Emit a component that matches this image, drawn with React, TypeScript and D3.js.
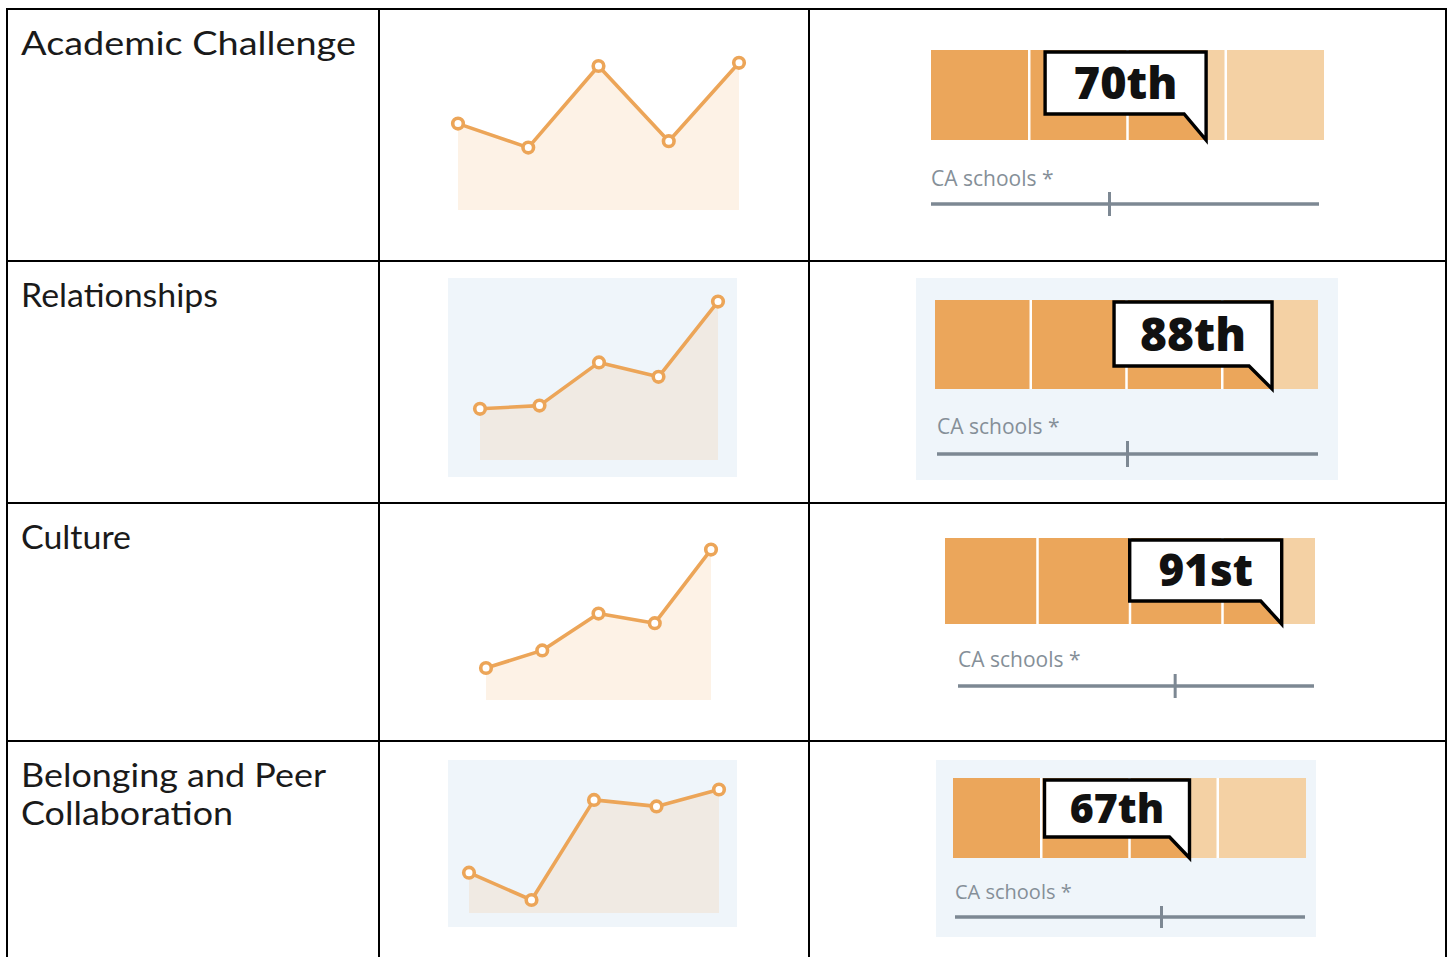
import React from "react";
import * as d3 from "d3";

// ---------- DATA ----------
const categories = ["Academic Challenge", "Relationships", "Culture", "Belonging and Peer Collaboration"];
const labelLines = [["Academic Challenge"], ["Relationships"], ["Culture"], ["Belonging and Peer", "Collaboration"]];
const trendAcademic = [54, 39, 90, 43, 92];
const trendRelationships = [32, 34, 61, 52, 99];
const trendCulture = [20, 31, 54, 48, 94];
const trendBelonging = [31, 10, 87, 82, 95];
const trends = [trendAcademic, trendRelationships, trendCulture, trendBelonging];
const percentiles = [70, 88, 91, 67];
const percentileLabels = ["70th", "88th", "91st", "67th"];
const caMarker = [46, 50, 61, 59];
const quartiles = [25, 50, 75];
const caLabel = "CA schools *";

// ---------- LAYOUT ----------
const colX = [7, 379, 809, 1446];
const rowY = [9, 261, 503, 741, 990];

const sparkLayout = [
  { x0: 458, x1: 739, yb: 210, h: 160, bg: null, fill: "#fdf2e6" },
  { x0: 480, x1: 718, yb: 460, h: 160, bg: [448, 278, 289, 199], fill: "#f0eae3" },
  { x0: 486, x1: 711, yb: 700, h: 160, bg: null, fill: "#fdf2e6" },
  { x0: 469, x1: 719, yb: 913, h: 130, bg: [448, 760, 289, 167], fill: "#f0eae3" },
];

const barLayout = [
  { x: 931, y: 50, w: 393, h: 90, bg: null, cw: 161, ch: 62, tail: 22, fs: 45,
    tx: 931, ty: 186, lx0: 931, lx1: 1319, ly: 204, tk: 12, cfs: 21 },
  { x: 935, y: 300, w: 383, h: 89, bg: [916, 278, 422, 202], cw: 158, ch: 64, tail: 23, fs: 46,
    tx: 937, ty: 434, lx0: 937, lx1: 1318, ly: 454, tk: 13, cfs: 21 },
  { x: 945, y: 538, w: 370, h: 86, bg: null, cw: 152, ch: 61, tail: 21, fs: 44,
    tx: 958, ty: 667, lx0: 958, lx1: 1314, ly: 686, tk: 12, cfs: 21 },
  { x: 953, y: 778, w: 353, h: 80, bg: [936, 760, 380, 177], cw: 145, ch: 57, tail: 20, fs: 41,
    tx: 955, ty: 899, lx0: 955, lx1: 1305, ly: 917, tk: 11, cfs: 20 },
];

const DARK = "#eba65b";
const LIGHT = "#f4d1a4";
const LINE = "#eca558";
const GREY = "#7d8893";

function Sparkline({ values, L }: any) {
  const x = d3.scaleLinear().domain([0, values.length - 1]).range([L.x0, L.x1]);
  const y = d3.scaleLinear().domain([0, 100]).range([L.yb, L.yb - L.h]);
  const area = d3.area<number>().x((_, i) => x(i)).y0(L.yb).y1((d) => y(d));
  const line = d3.line<number>().x((_, i) => x(i)).y((d) => y(d));
  return (
    <g>
      {L.bg && <rect x={L.bg[0]} y={L.bg[1]} width={L.bg[2]} height={L.bg[3]} fill="#eff5fa" />}
      <path d={area(values) || ""} fill={L.fill} />
      <path d={line(values) || ""} fill="none" stroke={LINE} strokeWidth={3.6} strokeLinejoin="round" />
      {values.map((v: number, i: number) => (
        <circle key={i} cx={x(i)} cy={y(v)} r={5.3} fill="#fff" stroke={LINE} strokeWidth={3.6} />
      ))}
    </g>
  );
}

function PercentileBar({ pct, label, ca, B }: any) {
  const x = d3.scaleLinear().domain([0, 100]).range([B.x, B.x + B.w]);
  const ax = d3.scaleLinear().domain([0, 100]).range([B.lx0, B.lx1]);
  const px = x(pct);
  const top = B.y + 2;
  const bot = top + B.ch;
  const left = px - B.cw;
  const bubble = `M${left},${top} L${px},${top} L${px},${B.y + B.h} L${px - B.tail},${bot} L${left},${bot} Z`;
  return (
    <g>
      {B.bg && <rect x={B.bg[0]} y={B.bg[1]} width={B.bg[2]} height={B.bg[3]} fill="#eff5fa" />}
      <rect x={x(0)} y={B.y} width={px - x(0)} height={B.h} fill={DARK} />
      <rect x={px} y={B.y} width={x(100) - px} height={B.h} fill={LIGHT} />
      {quartiles.map((q) => (
        <line key={q} x1={x(q)} x2={x(q)} y1={B.y} y2={B.y + B.h} stroke="#fff" strokeWidth={2.5} />
      ))}
      <path d={bubble} fill="#fff" stroke="#000" strokeWidth={3.4} strokeLinejoin="miter" />
      <text x={left + (B.cw) / 2} y={top + B.ch * 0.76} textAnchor="middle"
        fontFamily="'Open Sans', sans-serif" fontWeight={800} fontSize={B.fs} fill="#111">{label}</text>
      <text x={B.tx} y={B.ty} fontFamily="'Open Sans', sans-serif" fontSize={B.cfs} fill="#858f98">{caLabel}</text>
      <line x1={B.lx0} x2={B.lx1} y1={B.ly} y2={B.ly} stroke={GREY} strokeWidth={3.5} />
      <line x1={ax(ca)} x2={ax(ca)} y1={B.ly - B.tk} y2={B.ly + B.tk} stroke={GREY} strokeWidth={3} />
    </g>
  );
}

const labelWidths = [[335], [197], [110], [305, 212]];

export default function App() {
  return (
    <svg width={1452} height={957} style={{ position: "absolute", left: 0, top: 0, background: "#fff" }}>
      <rect x={0} y={0} width={1452} height={957} fill="#fff" />
      {categories.map((c, i) => (
        <g key={c}>
          {labelLines[i].map((t, j) => (
            <text key={j} x={21} y={rowY[i] + 46 + j * 38} fontFamily="Lato, 'DejaVu Sans', sans-serif"
              fontWeight={400} fontSize={32} fill="#1a1a1a" textLength={labelWidths[i][j]}
              lengthAdjust="spacingAndGlyphs">{t}</text>
          ))}
          <Sparkline values={trends[i]} L={sparkLayout[i]} />
          <PercentileBar pct={percentiles[i]} label={percentileLabels[i]} ca={caMarker[i]} B={barLayout[i]} />
        </g>
      ))}
      {colX.map((x) => (
        <line key={"c" + x} x1={x} x2={x} y1={rowY[0] - 1} y2={rowY[4]} stroke="#000" strokeWidth={2} />
      ))}
      {rowY.slice(0, 4).map((y) => (
        <line key={"r" + y} x1={colX[0] - 1} x2={colX[3] + 1} y1={y} y2={y} stroke="#000" strokeWidth={2} />
      ))}
    </svg>
  );
}
